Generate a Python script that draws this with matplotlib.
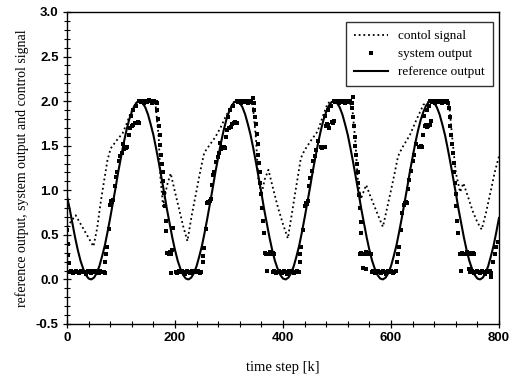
import matplotlib
matplotlib.use("Agg")
import matplotlib.pyplot as plt
from matplotlib.ticker import MultipleLocator, FormatStrFormatter
from matplotlib.lines import Line2D

plt.rcParams['axes.unicode_minus'] = False

# ---------------- data ----------------
# reference output, sampled every 5 steps (k = 0 ... 800)
ref_k = list(range(0, 801, 5))
ref_v = [0.93,
         0.79, 0.63, 0.47, 0.33, 0.21, 0.12, 0.05, 0.01, 0.00, 0.02, 0.07, 0.15, 0.26, 0.38, 0.53, 0.69, 0.86, 1.03,
         1.21, 1.37, 1.53, 1.67, 1.79, 1.88, 1.95, 1.99, 2.00, 1.98, 1.93, 1.85, 1.74, 1.62, 1.47, 1.31, 1.14, 0.97,
         0.79, 0.63, 0.47, 0.33, 0.21, 0.12, 0.05, 0.01, 0.00, 0.02, 0.07, 0.15, 0.26, 0.38, 0.53, 0.69, 0.86, 1.03,
         1.21, 1.37, 1.53, 1.67, 1.79, 1.88, 1.95, 1.99, 2.00, 1.98, 1.93, 1.85, 1.74, 1.62, 1.47, 1.31, 1.14, 0.97,
         0.79, 0.63, 0.47, 0.33, 0.21, 0.12, 0.05, 0.01, 0.00, 0.02, 0.07, 0.15, 0.26, 0.38, 0.53, 0.69, 0.86, 1.03,
         1.21, 1.37, 1.53, 1.67, 1.79, 1.88, 1.95, 1.99, 2.00, 1.98, 1.93, 1.85, 1.74, 1.62, 1.47, 1.31, 1.14, 0.97,
         0.79, 0.63, 0.47, 0.33, 0.21, 0.12, 0.05, 0.01, 0.00, 0.02, 0.07, 0.15, 0.26, 0.38, 0.53, 0.69, 0.86, 1.03,
         1.21, 1.37, 1.53, 1.67, 1.79, 1.88, 1.95, 1.99, 2.00, 1.98, 1.93, 1.85, 1.74, 1.62, 1.47, 1.31, 1.14, 0.97,
         0.79, 0.63, 0.47, 0.33, 0.21, 0.12, 0.05, 0.01, 0.00, 0.02, 0.07, 0.15, 0.26, 0.38, 0.53, 0.69]

# control signal
ctrl_k = [0, 16, 33, 49, 56, 62, 68, 75, 81, 92, 103, 110, 118, 128, 140, 156, 164, 170, 173, 178,
          185, 192, 200, 208, 215, 223, 231, 240, 247, 254, 262, 275, 285, 294, 309, 320, 336, 344, 350,
          354, 360, 366, 373, 382, 391, 400, 409, 416, 422, 428, 433, 440, 452, 464, 475, 483, 495, 520,
          528, 534, 538, 544, 549, 554, 562, 570, 578, 585, 592, 600, 607, 613, 620, 635, 647, 660, 672,
          700, 708, 714, 720, 728, 734, 743, 751, 760, 768, 776, 785, 792, 800]
ctrl_v = [0.59, 0.72, 0.54, 0.37, 0.58, 0.85, 1.08, 1.34, 1.47, 1.56, 1.64, 1.74, 1.87, 1.98, 2.00, 2.00,
          1.96, 1.58, 1.14, 0.82, 1.05, 1.19, 0.98, 0.78, 0.60, 0.43, 0.72, 1.00, 1.22, 1.42, 1.49, 1.60,
          1.71, 1.83, 1.99, 2.00, 2.00, 1.96, 1.58, 1.14, 0.95, 1.12, 1.23, 1.01, 0.80, 0.62, 0.46, 0.72,
          0.95, 1.17, 1.36, 1.45, 1.56, 1.66, 1.85, 1.98, 2.00, 2.00, 1.94, 1.55, 1.15, 0.90, 0.98, 1.06,
          0.93, 0.81, 0.69, 0.59, 0.78, 1.00, 1.20, 1.38, 1.47, 1.62, 1.79, 1.96, 2.00, 2.00, 1.94, 1.55,
          1.20, 0.98, 1.08, 0.92, 0.77, 0.64, 0.56, 0.75, 1.00, 1.20, 1.38]

# system output, by cycle
sys_k_1 = [0, 1, 2, 3, 5, 8, 11, 14, 17, 20, 23, 26, 29, 32, 35, 38, 41, 44, 47, 50, 53, 56, 59, 62, 65, 68, 70,
           71, 72, 74, 77, 80, 82, 84, 86, 88, 90, 93, 96, 99, 101, 104, 106, 108, 110, 112, 115, 117, 118,
           120, 122, 123, 125, 128, 130, 132, 134,
           134, 137, 140, 143, 146, 149, 152, 155, 158, 161, 164, 167]
sys_v_1 = [0.55, 0.40, 0.27, 0.18, 0.08, 0.09, 0.07, 0.08, 0.10, 0.08, 0.07, 0.09, 0.08, 0.08, 0.06, 0.09,
           0.08, 0.07, 0.09, 0.08, 0.10, 0.08, 0.07, 0.09, 0.08, 0.08, 0.07,
           0.20, 0.28, 0.36, 0.57, 0.84, 0.88, 0.87, 0.89, 1.05, 1.15, 1.20, 1.33, 1.38, 1.42, 1.52, 1.46,
           1.48, 1.47, 1.49, 1.62, 1.70, 1.83, 1.72, 1.90, 1.73, 1.75, 1.95, 1.76, 1.77, 1.75,
           2.00, 1.99, 2.00, 1.98, 2.00, 1.99, 2.01, 2.00, 1.98, 2.00, 1.99, 1.98]

sys_k_2 = [167, 169, 170, 172, 173, 174, 176, 177, 178, 180, 181, 183, 184, 186, 188, 190, 192, 193, 195, 197,
           201, 204, 207, 210, 213, 216, 219, 222, 225, 228, 231, 234, 237, 240, 243, 246, 249,
           251, 252, 254, 257, 260, 262, 264, 266, 268, 270, 273, 276, 279, 281, 284, 286, 288, 290, 292,
           295, 297, 298, 300, 302, 303, 305, 308, 310, 312, 314,
           314, 317, 320, 323, 326, 329, 332, 335, 338, 341, 344, 347]
sys_v_2 = [1.90, 1.80, 1.72, 1.62, 1.51, 1.40, 1.30, 1.21, 1.10, 0.97, 0.82, 0.66, 0.54, 0.30, 0.29, 0.31,
           0.28, 0.07, 0.33, 0.58,
           0.08, 0.07, 0.09, 0.08, 0.10, 0.08, 0.06, 0.09, 0.08, 0.07, 0.09, 0.08, 0.10, 0.08, 0.09, 0.07, 0.08,
           0.20, 0.26, 0.35, 0.57, 0.86, 0.87, 0.88, 0.90, 1.06, 1.17, 1.21, 1.32, 1.37, 1.42, 1.53, 1.46,
           1.48, 1.49, 1.47, 1.60, 1.68, 1.82, 1.70, 1.90, 1.71, 1.74, 1.95, 1.76, 1.77, 1.75,
           2.00, 1.99, 2.00, 1.98, 2.00, 1.99, 2.00, 1.98, 2.00, 1.99, 2.03, 1.98]

sys_k_3 = [347, 349, 350, 352, 353, 354, 356, 357, 358, 360, 361, 363, 364,
           366, 369, 371, 372, 375, 378, 381, 384,
           381, 384, 387, 390, 393, 396, 399, 402, 405, 408, 411, 414, 417, 420, 423, 426, 429,
           431, 432, 434, 437, 440, 442, 444, 446, 448, 450, 453, 456, 459, 461, 464, 470, 472, 474, 477,
           478, 479, 481, 483, 484, 486, 488, 490, 492, 494,
           494, 497, 500, 503, 506, 509, 512, 515, 518, 521, 524, 527]
sys_v_3 = [1.90, 1.82, 1.74, 1.63, 1.52, 1.40, 1.31, 1.20, 1.08, 0.96, 0.80, 0.65, 0.52,
           0.30, 0.28, 0.10, 0.29, 0.31, 0.28, 0.30, 0.29,
           0.08, 0.09, 0.07, 0.08, 0.10, 0.08, 0.07, 0.09, 0.08, 0.06, 0.09, 0.08, 0.10, 0.07, 0.08, 0.09, 0.08,
           0.20, 0.28, 0.36, 0.55, 0.82, 0.86, 0.85, 0.88, 1.05, 1.14, 1.22, 1.33, 1.38, 1.45, 1.55, 1.48,
           1.47, 1.49, 1.48, 1.83, 1.72, 1.74, 1.73, 1.90, 1.70, 1.95, 1.77, 1.76, 1.78,
           2.00, 1.99, 2.00, 1.98, 2.00, 1.99, 2.00, 1.98, 2.00, 1.99, 2.00, 1.98]

sys_k_4 = [527, 529, 530, 531, 533, 534, 535, 537, 538, 539, 541, 542, 544, 545,
           542, 545, 548, 549, 551, 553, 554, 557, 560, 563,
           564, 567, 570, 573, 576, 579, 582, 585, 588, 591, 594, 597, 600, 603, 606, 609,
           611, 613, 615, 618, 621, 624, 626, 628, 630, 632, 634, 637, 640, 643, 646, 651, 653, 655, 657,
           660, 662, 663, 665, 666, 667, 669, 670, 672, 674,
           673, 676, 679, 682, 685, 688, 691, 694, 697, 700, 703, 706]
sys_v_4 = [1.92, 2.05, 1.82, 1.72, 1.60, 1.50, 1.40, 1.30, 1.20, 1.08, 0.95, 0.80, 0.64, 0.52,
           0.29, 0.30, 0.28, 0.13, 0.29, 0.12, 0.31, 0.28, 0.30, 0.29,
           0.08, 0.09, 0.07, 0.08, 0.10, 0.08, 0.07, 0.09, 0.08, 0.06, 0.09, 0.08, 0.10, 0.07, 0.08, 0.09,
           0.20, 0.29, 0.36, 0.55, 0.75, 0.84, 0.86, 0.87, 0.86, 1.02, 1.12, 1.22, 1.33, 1.40, 1.52, 1.49,
           1.48, 1.50, 1.49, 1.62, 1.83, 1.72, 1.73, 1.90, 1.71, 1.72, 1.95, 1.73, 1.78,
           2.00, 1.99, 2.00, 1.98, 2.00, 1.99, 2.00, 1.98, 2.00, 1.99, 2.00, 1.98]

sys_k_5 = [707, 709, 710, 712, 713, 714, 716, 717, 718, 720, 721, 723, 724,
           728, 729, 731, 734, 737, 740, 743, 745, 746, 749, 752, 754,
           747, 750, 753, 756, 759, 762, 765, 768, 771, 774, 777, 780, 783, 786, 785,
           789, 792, 795, 799]
sys_v_5 = [1.92, 1.82, 1.72, 1.62, 1.52, 1.42, 1.31, 1.20, 1.08, 0.96, 0.82, 0.66, 0.52,
           0.29, 0.10, 0.30, 0.28, 0.29, 0.31, 0.28, 0.12, 0.30, 0.29, 0.30, 0.28,
           0.08, 0.09, 0.07, 0.08, 0.10, 0.08, 0.07, 0.09, 0.08, 0.06, 0.09, 0.08, 0.10, 0.07, 0.03,
           0.20, 0.29, 0.36, 0.42]

sys_k = sys_k_1 + sys_k_2 + sys_k_3 + sys_k_4 + sys_k_5
sys_v = sys_v_1 + sys_v_2 + sys_v_3 + sys_v_4 + sys_v_5

x_ticks = [0, 200, 400, 600, 800]
y_ticks = [-0.5, 0.0, 0.5, 1.0, 1.5, 2.0, 2.5, 3.0]

# ---------------- figure ----------------
fig = plt.figure(figsize=(5.11, 3.80), dpi=100)
ax = fig.add_axes([67 / 511, 1 - 324 / 380, (499 - 67) / 511, (324 - 12) / 380])

ax.plot(ctrl_k, ctrl_v, color='black', lw=1.3, linestyle=(0, (1, 1.6)), zorder=2)
ax.plot(ref_k, ref_v, color='black', lw=1.5, zorder=3)
ax.plot(sys_k, sys_v, linestyle='none', marker='s', ms=3.2, color='black', mew=0, zorder=4)

ax.set_xlim(0, 800)
ax.set_ylim(-0.5, 3.0)
ax.set_xticks(x_ticks)
ax.set_yticks(y_ticks)
ax.xaxis.set_minor_locator(MultipleLocator(40))
ax.yaxis.set_minor_locator(MultipleLocator(0.1))
ax.yaxis.set_major_formatter(FormatStrFormatter('%.1f'))
ax.tick_params(which='major', direction='inout', length=6, width=0.9, top=False, right=False, pad=3)
ax.tick_params(which='minor', direction='inout', length=5, width=0.8, top=False, right=False)
for lab in ax.get_xticklabels() + ax.get_yticklabels():
    lab.set_fontfamily('Liberation Sans')
    lab.set_fontweight('bold')
    lab.set_fontsize(9.5)
for sp in ax.spines.values():
    sp.set_linewidth(1.0)

ax.set_xlabel('time step [k]', fontfamily='Liberation Serif', fontsize=10.5, labelpad=12)
ax.set_ylabel('reference output, system output and control signal',
              fontfamily='Liberation Serif', fontsize=10, labelpad=5)

handles = [
    Line2D([], [], color='black', lw=1.3, linestyle=(0, (1, 1.6))),
    Line2D([], [], color='black', linestyle='none', marker='s', ms=3.2, mew=0),
    Line2D([], [], color='black', lw=1.5),
]
labels = ['contol signal', 'system output', 'reference output']
leg = ax.legend(handles, labels, loc='upper right', bbox_to_anchor=(0.986, 0.968),
                borderaxespad=0, frameon=True, fancybox=False, edgecolor='black',
                prop={'family': 'Liberation Serif', 'size': 9.5}, handlelength=2.6,
                handletextpad=0.8, labelspacing=0.45, borderpad=0.6)
leg.get_frame().set_linewidth(1.0)

fig.savefig('out.png', dpi=100)
